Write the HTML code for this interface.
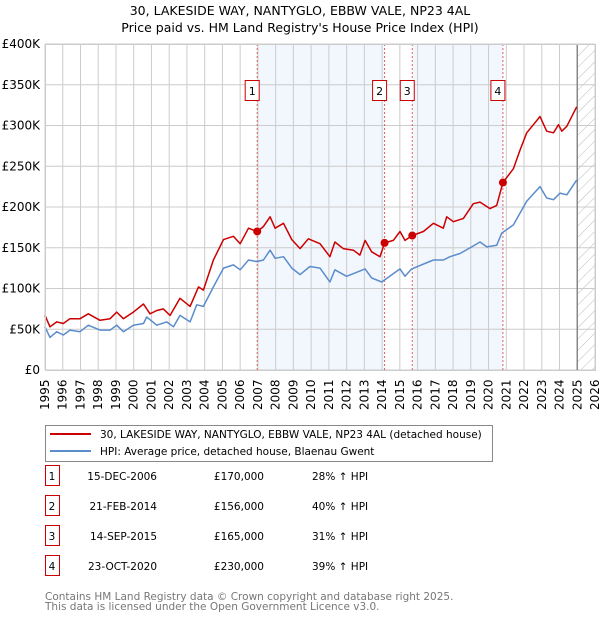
<!DOCTYPE html>
<html><head><meta charset="utf-8"><style>
body{margin:0;background:#fff;font-family:"DejaVu Sans","Liberation Sans",sans-serif;}
svg text{font-family:"DejaVu Sans","Liberation Sans",sans-serif;}
</style></head><body>
<svg id="chart" width="600" height="620" viewBox="0 0 600 620" xmlns="http://www.w3.org/2000/svg">
<defs><pattern id="hatch" width="8" height="8" patternUnits="userSpaceOnUse" patternTransform="rotate(45)"><line x1="0" y1="0" x2="0" y2="8" stroke="#bbb" stroke-width="1"/></pattern></defs>
<text x="300" y="15" text-anchor="middle" font-size="12.5">30, LAKESIDE WAY, NANTYGLO, EBBW VALE, NP23 4AL</text>
<text x="300" y="32" text-anchor="middle" font-size="12.5">Price paid vs. HM Land Registry's House Price Index (HPI)</text>
<g id="plot"></g>
<g>
<rect x="45.5" y="425.5" width="447" height="36" fill="#fff" stroke="#888"/>
<line x1="50" y1="434" x2="91" y2="434" stroke="#cc0000" stroke-width="2"/>
<text x="100" y="438" font-size="10.5">30, LAKESIDE WAY, NANTYGLO, EBBW VALE, NP23 4AL (detached house)</text>
<line x1="50" y1="451" x2="91" y2="451" stroke="#5b8ccc" stroke-width="2"/>
<text x="100" y="455" font-size="10.5">HPI: Average price, detached house, Blaenau Gwent</text>
</g>
<g id="table" font-size="10.5"></g>
<text x="45" y="600" font-size="10.5" fill="#777">Contains HM Land Registry data © Crown copyright and database right 2025.</text>
<text x="45" y="610" font-size="10.5" fill="#777">This data is licensed under the Open Government Licence v3.0.</text>
</svg>
<script>
const redYears=[1995.0,1995.28,1995.66,1996.03,1996.41,1996.97,1997.44,1998.1,1998.67,1999.04,1999.42,1999.98,2000.55,2000.92,2001.3,2001.67,2002.05,2002.61,2003.18,2003.65,2003.93,2004.49,2005.06,2005.62,2006.0,2006.47,2006.96,2007.31,2007.69,2007.97,2008.44,2008.91,2009.38,2009.84,2010.5,2011.06,2011.34,2011.81,2012.38,2012.75,2013.04,2013.41,2013.88,2014.14,2014.63,2015.01,2015.29,2015.7,2016.33,2016.89,2017.45,2017.64,2018.02,2018.58,2019.14,2019.52,2020.08,2020.46,2020.81,2021.4,2021.78,2022.15,2022.53,2022.9,2023.28,2023.66,2023.94,2024.13,2024.41,2024.97];
const redValues=[67,53,59,57,63,63,69,61,63,71,63,71,81,69,73,75,67,88,78,102,98,135,160,164,155,174,170,176,188,174,180,160,149,161,155,139,157,149,147,141,159,145,139,156,159,170,159,165,170,180,174,188,182,186,204,206,198,202,230,247,270,291,301,311,293,291,301,293,299,323];
const hpiYears=[1995.0,1995.28,1995.66,1996.03,1996.41,1996.97,1997.44,1998.1,1998.67,1999.04,1999.42,1999.98,2000.55,2000.73,2001.3,2001.86,2002.24,2002.61,2003.18,2003.55,2003.93,2004.49,2005.06,2005.62,2006.0,2006.47,2006.94,2007.31,2007.69,2007.97,2008.44,2008.91,2009.38,2009.93,2010.5,2011.06,2011.34,2012.0,2013.04,2013.41,2013.98,2015.01,2015.29,2015.67,2016.89,2017.45,2017.83,2018.39,2019.05,2019.52,2019.9,2020.46,2020.74,2021.4,2022.15,2022.9,2023.28,2023.66,2024.03,2024.41,2024.97];
const hpiValues=[53,40,47,43,49,47,55,49,49,55,47,55,57,65,55,59,53,67,59,80,78,102,125,129,123,135,133,135,147,137,139,125,117,127,125,108,123,115,124,113,108,124,115,124,135,135,139,143,151,157,151,153,168,178,207,225,211,209,217,215,233];
const saleYears=[2006.96,2014.14,2015.70,2020.81];
const saleValues=[170,156,165,230];
const saleLabels=["1","2","3","4"];
const saleDates=["15-DEC-2006","21-FEB-2014","14-SEP-2015","23-OCT-2020"];
const salePrices=["£170,000","£156,000","£165,000","£230,000"];
const saleHpi=["28% ↑ HPI","40% ↑ HPI","31% ↑ HPI","39% ↑ HPI"];
const yTicks=[0,50,100,150,200,250,300,350,400];
const yTickLabels=["£0","£50K","£100K","£150K","£200K","£250K","£300K","£350K","£400K"];
const xStart=1995,xEnd=2026;

const NS="http://www.w3.org/2000/svg";
const L=45,R=595,T=44,B=370;
const xs=y=>L+(y-xStart)/(xEnd-xStart)*(R-L);
const ys=v=>B-v/400*(B-T);
const plot=document.getElementById('plot');
function mk(tag,attrs,parent,text){const e=document.createElementNS(NS,tag);for(const k in attrs)e.setAttribute(k,attrs[k]);if(text!==undefined)e.textContent=text;(parent||plot).appendChild(e);return e;}
let s=mk('rect',{x:xs(saleYears[0]),y:T,width:xs(saleYears[1])-xs(saleYears[0]),height:B-T,fill:'#f2f6fd'});


s=mk('rect',{x:xs(saleYears[2]),y:T,width:xs(saleYears[3])-xs(saleYears[2]),height:B-T,fill:'#f2f6fd'});


s=mk('rect',{x:xs(2025),y:T,width:R-xs(2025),height:B-T,fill:'url(#hatch)'});


for(let y=xStart;y<=xEnd;y++){
 const g=mk('line',{x1:xs(y),x2:xs(y),y1:T,y2:B,stroke:'#cccccc','stroke-width':1});
 
 
 const t=mk('text',{x:0,y:0,transform:`translate(${xs(y)+4},${B+40}) rotate(-90)`,'font-size':12},plot,String(y));
 
 
}
yTicks.forEach((v,i)=>{
 const g=mk('line',{x1:L,x2:R,y1:ys(v),y2:ys(v),stroke:'#cccccc','stroke-width':1});
 
 
 const t=mk('text',{x:40,y:ys(v)+4,'text-anchor':'end','font-size':12},plot,yTickLabels[i]);
 
 
});
s=mk('line',{x1:xs(2025),x2:xs(2025),y1:T,y2:B,stroke:'#888','stroke-width':1.5});


saleYears.forEach((y,i)=>{
 const l=mk('line',{x1:xs(y),x2:xs(y),y1:T,y2:B,stroke:'#e06060','stroke-width':1,'stroke-dasharray':'2,2'});
 
 
});
function line(xa,va,color,name){
 const d=xa.map((y,i)=>(i?'L':'M')+xs(y).toFixed(1)+','+ys(va[i]).toFixed(1)).join('');
 const p=mk('path',{d:d,fill:'none',stroke:color,'stroke-width':1.5,'stroke-linejoin':'round'});
 
 
}
line(hpiYears,hpiValues,'#5b8ccc','hpi-line');
line(redYears,redValues,'#cc0000','price-paid-line');
saleYears.forEach((y,i)=>{
 const c=mk('circle',{cx:xs(y),cy:ys(saleValues[i]),r:4,fill:'#cc0000'});
 
 
 const b=mk('rect',{x:xs(y)-12,y:80.5,width:14,height:20,fill:'#fff',stroke:'#cc0000'});
 
 
 const t=mk('text',{x:xs(y)-5,y:95,'text-anchor':'middle','font-size':11},plot,saleLabels[i]);
 
 
});
s=mk('rect',{x:L+.5,y:T+.5,width:R-L,height:B-T,fill:'none',stroke:'#cccccc'});


const tb=document.getElementById('table');
saleLabels.forEach((lab,i)=>{
 const y=483+i*30;
 const b=mk('rect',{x:45.5,y:y-17.5,width:14,height:20,fill:'#fff',stroke:'#cc0000'},tb);
 
 
 const cells=[[52,lab,'middle'],[157,saleDates[i],'end'],[264,salePrices[i],'end'],[312,saleHpi[i],'start']];
 cells.forEach(c=>{
  const t=mk('text',{x:c[0],y:y-3,'text-anchor':c[2]},tb,c[1]);
  
  
 });
});
</script>
</body></html>
